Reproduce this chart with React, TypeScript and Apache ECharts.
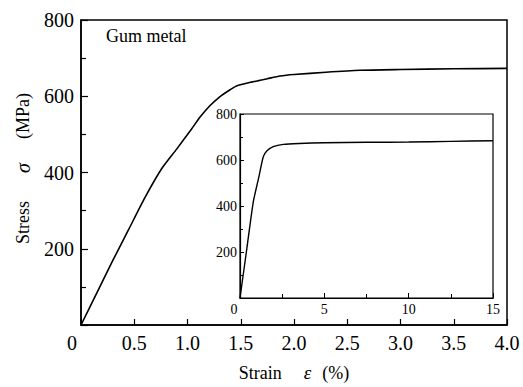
import React, { useEffect, useRef } from "react";
import * as echarts from "echarts";

const mainStrain = [0, 0.15, 0.3, 0.45, 0.6, 0.76, 0.9, 1.04, 1.12, 1.21, 1.3, 1.4, 1.46, 1.6, 1.75, 1.87, 2.0, 2.3, 2.62, 3.0, 3.5, 4.0];
const mainStress = [0, 85, 170, 252, 334, 411, 462, 515, 546, 575, 598, 617, 627, 637, 646, 653, 657, 663, 668, 670, 672, 673];

const insetStrain = [0, 0.4, 0.79, 1.1, 1.38, 1.6, 1.97, 2.57, 3.5, 5.0, 7.5, 10, 12.5, 15];
const insetStress = [0, 212, 419, 520, 614, 640, 658, 668, 672, 675, 677, 678, 681, 684];

const FONT = "'Liberation Serif', 'Times New Roman', Times, serif";

export default function App() {
  const ref = useRef<HTMLDivElement>(null);
  useEffect(() => {
    if (!ref.current) return;
    const chart = echarts.init(ref.current, null, { renderer: "svg" });
    const axisLine = { show: true, lineStyle: { color: "#000", width: 1.5 } };
    chart.setOption({
      animation: false,
      backgroundColor: "#fff",
      textStyle: { fontFamily: FONT },
      grid: [
        { left: 81, top: 20, width: 426, height: 309, show: true, borderColor: "#000", borderWidth: 1.5 },
        { left: 240, top: 114, width: 253, height: 184, show: true, borderColor: "#000", borderWidth: 1.2 },
      ],
      xAxis: [
        {
          gridIndex: 0,
          type: "value",
          min: 0,
          max: 4,
          interval: 0.5,
          axisLine,
          axisTick: { inside: true, length: 6, lineStyle: { color: "#000", width: 1.2 } },
          splitLine: { show: false },
          axisLabel: {
            color: "#000",
            fontFamily: FONT,
            fontSize: 20,
            margin: 8,
            formatter: (v: number) => (v === 0 ? "{z|0}" : v.toFixed(1)),
            rich: { z: { fontFamily: FONT, fontSize: 20, color: "#000", padding: [0, 18, 0, 0] } },
          },
          name: "{n|Strain}{s|ε}{n|(%)}",
          nameLocation: "middle",
          nameGap: 38,
          nameTextStyle: {
            rich: {
              n: { fontFamily: FONT, fontSize: 18, color: "#000" },
              s: { fontFamily: FONT, fontSize: 19, fontStyle: "italic", color: "#000", padding: [0, 11, 0, 22] },
            },
          },
        },
        {
          gridIndex: 1,
          type: "value",
          min: 0,
          max: 15,
          interval: 5,
          axisLine: { show: true, lineStyle: { color: "#000", width: 1.2 } },
          axisTick: { inside: true, length: 5, lineStyle: { color: "#000", width: 1 } },
          minorTick: { show: true, splitNumber: 2, length: 4, lineStyle: { color: "#000", width: 1 } },
          splitLine: { show: false },
          axisLabel: {
            color: "#000",
            fontFamily: FONT,
            fontSize: 14,
            margin: 4,
            formatter: (v: number) => (v === 0 ? "{z|0}" : String(v)),
            rich: { z: { fontFamily: FONT, fontSize: 14, color: "#000", padding: [0, 12, 0, 0] } },
          },
        },
      ],
      yAxis: [
        {
          gridIndex: 0,
          type: "value",
          min: 0,
          max: 800,
          interval: 200,
          axisLine,
          axisTick: { inside: true, length: 7, lineStyle: { color: "#000", width: 1.2 } },
          minorTick: { show: true, splitNumber: 2, length: 5, lineStyle: { color: "#000", width: 1.2 } },
          splitLine: { show: false },
          axisLabel: {
            color: "#000",
            fontFamily: FONT,
            fontSize: 20,
            margin: 7,
            formatter: (v: number) => (v === 0 ? "" : String(v)),
          },
          name: "{a|Stress}{s|σ}{n|(MPa)}",
          nameLocation: "middle",
          nameGap: 48,
          nameTextStyle: {
            rich: {
              a: { fontFamily: FONT, fontSize: 18, color: "#000", padding: [0, 0, 0, 8] },
              n: { fontFamily: FONT, fontSize: 18, color: "#000" },
              s: { fontFamily: FONT, fontSize: 20, fontStyle: "italic", color: "#000", padding: [0, 24, 0, 28] },
            },
          },
        },
        {
          gridIndex: 1,
          type: "value",
          min: 0,
          max: 800,
          interval: 200,
          axisLine: { show: true, lineStyle: { color: "#000", width: 1.2 } },
          axisTick: { inside: true, length: 4, lineStyle: { color: "#000", width: 1 } },
          minorTick: { show: true, splitNumber: 2, length: 3, lineStyle: { color: "#000", width: 1 } },
          splitLine: { show: false },
          axisLabel: {
            color: "#000",
            fontFamily: FONT,
            fontSize: 14,
            margin: 3,
            formatter: (v: number) => (v === 0 ? "" : String(v)),
          },
        },
      ],
      graphic: [
        {
          type: "text",
          left: 106,
          top: 27,
          style: { text: "Gum metal", fontFamily: FONT, fontSize: 18, fill: "#000" },
        },
      ],
      series: [
        {
          type: "line",
          xAxisIndex: 0,
          yAxisIndex: 0,
          data: mainStrain.map((x, i) => [x, mainStress[i]]),
          showSymbol: false,
          smooth: 0.2,
          lineStyle: { color: "#000", width: 1.6 },
        },
        {
          type: "line",
          xAxisIndex: 1,
          yAxisIndex: 1,
          data: insetStrain.map((x, i) => [x, insetStress[i]]),
          showSymbol: false,
          smooth: 0.2,
          lineStyle: { color: "#000", width: 1.4 },
        },
      ],
    });
    return () => chart.dispose();
  }, []);
  return <div ref={ref} style={{ position: "absolute", left: 0, top: 0, width: 523, height: 387 }} />;
}
